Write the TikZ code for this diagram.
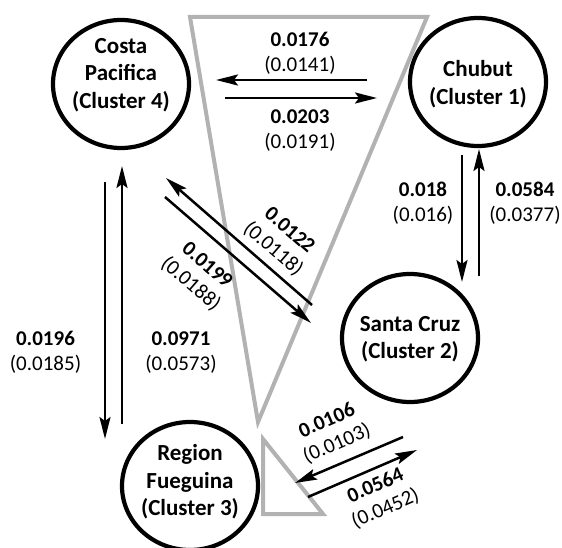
\documentclass[tikz,border=0pt]{standalone}
\usepackage{fontspec}
\setmainfont{Carlito}
\usetikzlibrary{arrows.meta,shapes.geometric}
\begin{document}
\begin{tikzpicture}[x=1pt,y=-1pt,
  region/.style={ellipse, draw=black, line width=4.2pt, minimum width=136pt,
    minimum height=128pt, inner sep=0pt},
  regionname/.style={align=center, inner sep=0pt,
    font=\fontsize{23}{27.5}\selectfont\bfseries},
  flow/.style={line width=2.5pt,
    -{Stealth[length=22pt,width=11pt,inset=4pt]}},
  plain/.style={line width=2.5pt},
  rate/.style={align=center, inner sep=0pt,
    font=\fontsize{21}{25}\selectfont},
  guide/.style={draw=black!30, line width=4pt, line join=miter}
]
\useasboundingbox (0,0) rectangle (562,548);

% grey wedges behind the flows
\draw[guide] (190,17) -- (427,17) -- (258,422) -- cycle;
\draw[guide] (263,439) -- (263,514) -- (323,514) -- cycle;

% clusters
\node[region] (costa)  at (121,84)  {};
\node[region] (chubut) at (478,82)  {};
\node[region] (santa)  at (410,338) {};
\node[region] (fueg)   at (190,486) {};
\node[regionname] (costaname)  at (121,75)  {Costa\\Pacifica\\(Cluster 4)};
\node[regionname] (chubutname) at (478,84)  {Chubut\\(Cluster 1)};
\node[regionname] (santaname)  at (410,339) {Santa Cruz\\(Cluster 2)};
\node[regionname] (fuegname)   at (190,482) {Region\\Fueguina\\(Cluster 3)};

% end points of the flow arrows
\coordinate (t1s) at (367,80);  \coordinate (t1e) at (216,80);
\coordinate (t2s) at (225,98);  \coordinate (t2e) at (377,98);
\coordinate (r1s) at (462,155); \coordinate (r1e) at (462,282);
\coordinate (r2s) at (479,276); \coordinate (r2e) at (479,149);
\coordinate (l1s) at (105,182); \coordinate (l1e) at (105,439);
\coordinate (l2s) at (122,424); \coordinate (l2e) at (122,166);
\coordinate (d1s) at (312,305); \coordinate (d1e) at (166,178);
\coordinate (d2s) at (165,197); \coordinate (d2e) at (311,323);
\coordinate (b1s) at (403,437); \coordinate (b1e) at (295,483);
\coordinate (b2s) at (308,497); \coordinate (b2e) at (417,450);

% flows
\draw[flow] (t1s) -- (t1e);
\draw[flow] (t2s) -- (t2e);
\draw[flow] (r1s) -- (r1e);
\draw[flow] (r2s) -- (r2e);
\draw[flow] (l1s) -- (l1e);
\draw[flow] (l2s) -- (l2e);
\draw[flow] (d1s) -- (d1e);
\draw[flow] (d2s) -- (d2e);
\draw[flow] (b1s) -- (b1e);
\draw[flow] (b2s) -- (b2e);

% rates
\node[rate] (rt1) at (300,53)    {\textbf{0.0176}\\(0.0141)};
\node[rate] (rt2) at (300,130.5) {\textbf{0.0203}\\(0.0191)};
\node[rate] (rr1) at (423,203)   {\textbf{0.018}\\(0.016)};
\node[rate] (rr2) at (525,203)   {\textbf{0.0584}\\(0.0377)};
\node[rate] (rl1) at (45.5,352.5) {\textbf{0.0196}\\(0.0185)};
\node[rate] (rl2) at (181,352.5) {\textbf{0.0971}\\(0.0573)};
\node[rate, rotate=-41] (rd1) at (281,240)   {\textbf{0.0122}\\(0.0118)};
\node[rate, rotate=-41] (rd2) at (198.5,275) {\textbf{0.0199}\\(0.0188)};
\node[rate, rotate=23.5] (rb1) at (332,432.5)   {\textbf{0.0106}\\(0.0103)};
\node[rate, rotate=23.5] (rb2) at (380.5,497.5) {\textbf{0.0564}\\(0.0452)};
\end{tikzpicture}
\end{document}
